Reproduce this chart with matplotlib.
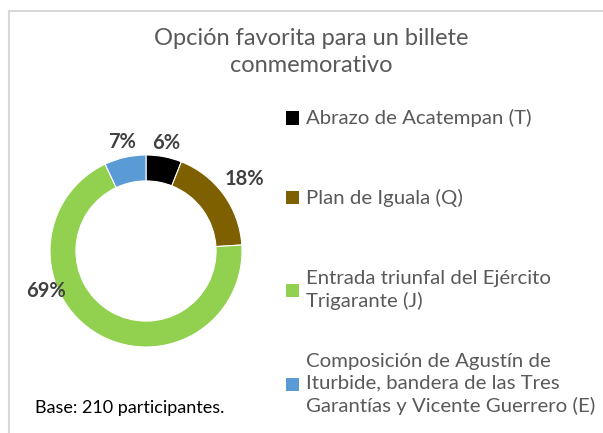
import matplotlib.pyplot as plt
import numpy as np

# datos de la grafica
categorias = ["Abrazo de Acatempan (T)", "Plan de Iguala (Q)",
              "Entrada triunfal del Ejército\nTrigarante (J)",
              "Composición de Agustín de\nIturbide, bandera de las Tres\nGarantías y Vicente Guerrero (E)"]
porcentajes = [6, 18, 69, 7]
colores = ["#000000", "#7F6000", "#92D050", "#5B9BD5"]

plt.rcParams['font.family'] = ['Lato', 'DejaVu Sans']

fig = plt.figure(figsize=(6.03, 4.33), dpi=100)
fig.patch.set_facecolor("white")

# borde gris arriba e izquierda
fig.add_artist(plt.Line2D([8.5 / 603, 1], [1 - 10.5 / 433, 1 - 10.5 / 433], color="#D9D9D9", lw=1.5))
fig.add_artist(plt.Line2D([8.5 / 603, 8.5 / 603], [0, 1 - 10.5 / 433], color="#D9D9D9", lw=1.5))

fig.text(311 / 603, 1 - 52 / 433, "Opción favorita para un billete\nconmemorativo",
         ha="center", va="center", fontsize=17, color="#595959", linespacing=1.3)

# dona
cx, cy, half = 146, 251, 120
ax = fig.add_axes([(cx - half) / 603, (433 - cy - half) / 433, 2 * half / 603, 2 * half / 433])
wedges, _ = ax.pie(porcentajes, colors=colores, startangle=90, counterclock=False,
                   wedgeprops=dict(width=0.27, edgecolor="white", linewidth=0.8))
ax.set_xlim(-1.25, 1.25)
ax.set_ylim(-1.25, 1.25)
ax.set_aspect("equal")
ax.axis("off")

# etiquetas de porcentaje
distancias = [1.15, 1.27, 1.12, 1.16]
angulo_fijo = [None, None, 202, None]
for w, p, d, a in zip(wedges, porcentajes, distancias, angulo_fijo):
    ang = (w.theta1 + w.theta2) / 2 if a is None else a
    ax.text(d * np.cos(np.radians(ang)), d * np.sin(np.radians(ang)), f"{p}%",
            ha="center", va="center", fontsize=14.5, fontweight="bold", color="#404040")

# leyenda
y_items = [118, 198, 290, 384]
for cat, col, y in zip(categorias, colores, y_items):
    fig.patches.append(plt.Rectangle((286 / 603, 1 - (y + 6.5) / 433), 13 / 603, 13 / 433,
                                     transform=fig.transFigure, facecolor=col, edgecolor="none"))
    fig.text(306 / 603, 1 - y / 433, cat, ha="left", va="center", fontsize=14.7,
             color="#595959", linespacing=1.32)

fig.text(35 / 603, 1 - 408 / 433, "Base: 210 participantes.", ha="left", va="center",
         fontsize=13, color="#000000")

fig.savefig("out.png", dpi=100)
